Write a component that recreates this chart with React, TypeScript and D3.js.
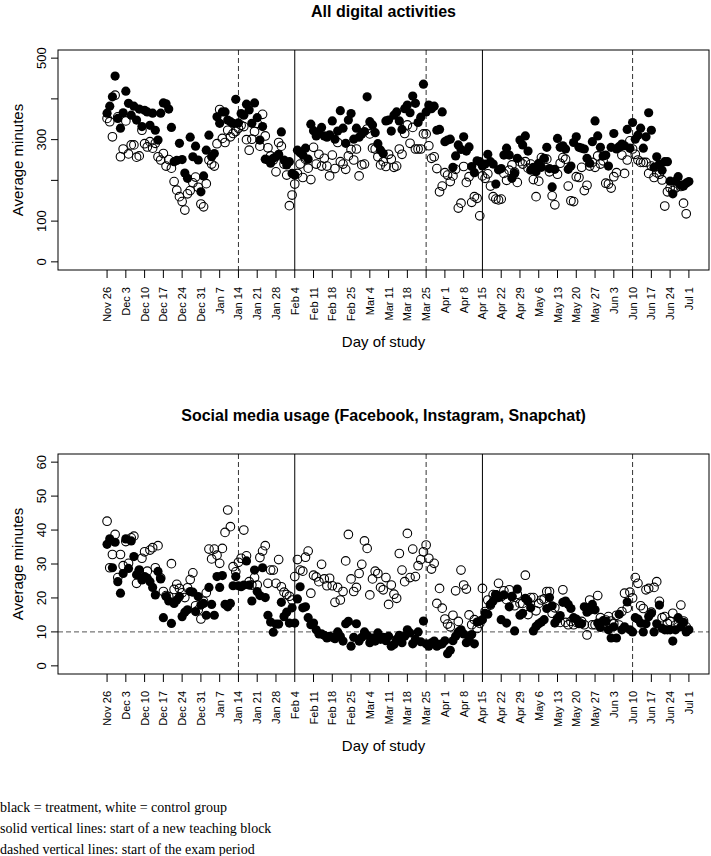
import React from 'react';
import * as d3 from 'd3';

// weekly tick labels, day 0 = Nov 26
const tickLabels = [
  'Nov 26', 'Dec 3', 'Dec 10', 'Dec 17', 'Dec 24', 'Dec 31', 'Jan 7', 'Jan 14',
  'Jan 21', 'Jan 28', 'Feb 4', 'Feb 11', 'Feb 18', 'Feb 25', 'Mar 4', 'Mar 11',
  'Mar 18', 'Mar 25', 'Apr 1', 'Apr 8', 'Apr 15', 'Apr 22', 'Apr 29', 'May 6',
  'May 13', 'May 20', 'May 27', 'Jun 3', 'Jun 10', 'Jun 17', 'Jun 24', 'Jul 1',
];
const teachingStarts = [70, 140]; // Feb 4, Apr 15
const examStarts = [49, 119, 196]; // Jan 14, Mar 25, Jun 10

// All digital activities, average minutes per day
const allTreat = [
  365, 382, 405, 456, 352, 328, 366, 419, 389, 360,
  382, 348, 375, 332, 372, 368, 335, 365, 323, 299,
  365, 390, 388, 375, 330, 246, 249, 291, 251, 218,
  205, 306, 258, 284, 250, 172, 211, 274, 311, 258,
  266, 356, 340, 368, 368, 348, 344, 340, 399, 341,
  364, 360, 387, 373, 340, 390, 354, 299, 332, 252,
  250, 242, 254, 258, 264, 319, 250, 238, 246, 217,
  213, 274, 268, 262, 279, 252, 338, 322, 309, 318,
  330, 309, 306, 312, 346, 301, 321, 371, 328, 291,
  348, 364, 301, 328, 306, 314, 320, 405, 344, 336,
  317, 290, 274, 266, 346, 348, 321, 360, 368, 346,
  325, 376, 385, 366, 407, 389, 342, 355, 436, 368,
  385, 376, 382, 323, 325, 368, 295, 299, 301, 232,
  260, 287, 276, 307, 272, 282, 234, 219, 248, 246,
  235, 240, 264, 246, 240, 191, 226, 229, 262, 279,
  262, 205, 217, 254, 299, 287, 309, 272, 225, 232,
  221, 242, 232, 254, 281, 229, 184, 227, 303, 281,
  285, 277, 227, 235, 293, 307, 281, 279, 277, 254,
  242, 295, 346, 309, 281, 260, 262, 235, 281, 315,
  277, 281, 289, 285, 325, 279, 342, 301, 311, 328,
  279, 307, 366, 323, 232, 258, 240, 225, 246, 246,
  198, 167, 198, 209, 188, 186, 193, 197,
];
const allControl = [
  352, 344, 307, 409, 356, 258, 277, 346, 265, 287,
  287, 257, 260, 323, 290, 282, 295, 279, 291, 258,
  250, 266, 235, 251, 230, 197, 176, 160, 148, 127,
  167, 175, 194, 208, 183, 142, 135, 192, 250, 240,
  235, 290, 374, 303, 293, 323, 307, 315, 320, 328,
  335, 332, 300, 274, 301, 320, 340, 284, 362, 309,
  280, 260, 250, 221, 293, 284, 240, 213, 138, 164,
  191, 217, 240, 207, 252, 230, 202, 281, 240, 264,
  235, 254, 235, 211, 262, 229, 293, 246, 240, 227,
  260, 276, 250, 277, 211, 238, 240, 326, 314, 279,
  277, 258, 238, 246, 234, 264, 252, 232, 235, 277,
  264, 315, 336, 291, 330, 277, 277, 277, 314, 314,
  285, 254, 258, 229, 172, 186, 219, 213, 197, 211,
  227, 132, 144, 234, 195, 209, 146, 160, 156, 113,
  211, 205, 216, 186, 160, 154, 152, 154, 217, 200,
  225, 238, 220, 195, 246, 240, 246, 230, 240, 202,
  160, 198, 256, 252, 252, 221, 162, 140, 215, 242,
  256, 252, 186, 150, 148, 209, 207, 232, 175, 188,
  235, 244, 232, 260, 240, 248, 193, 191, 181, 209,
  219, 282, 262, 217, 250, 297, 277, 264, 250, 244,
  244, 244, 217, 235, 207, 219, 215, 201, 137, 172,
  181, 175, 181, 195, 185, 144, 118, null,
];

// Social media usage, average minutes per day
const socialTreat = [
  35.8, 37.4, 28.9, 36.4, 24.8, 21.4, 27.2, 37.4, 28.7, 36.8,
  32.2, 26.8, 28.3, 25.3, 26.3, 25.8, 24.8, 23.1, 20.9, 27.8,
  25.6, 14.2, 20.4, 19.1, 12.5, 18.4, 19.4, 20.4, 14.5, 15.8,
  16.5, 21.9, 21.7, 16.0, 20.4, 17.9, 18.4, 14.9, 23.1, 18.1,
  14.9, 26.3, 23.1, 26.6, 18.1, 17.4, 18.4, 23.6, 26.3, 23.6,
  23.3, 23.8, 30.9, 23.8, 19.1, 28.2, 21.9, 20.7, 28.9, 20.1,
  14.9, 12.9, 9.9, 12.3, 12.3, 18.7, 14.5, 15.8, 12.6, 17.1,
  12.6, 19.7, 23.3, 17.1, 17.4, 14.2, 12.1, 12.6, 10.6, 9.4,
  9.4, 9.0, 8.2, 8.7, 8.4, 8.0, 10.0, 8.7, 7.3, 12.4,
  13.1, 5.8, 8.4, 12.4, 7.3, 8.4, 10.0, 9.0, 6.8, 8.2,
  7.3, 9.7, 7.8, 8.4, 7.4, 8.7, 5.8, 6.3, 7.8, 9.0,
  6.8, 8.7, 10.6, 9.7, 6.5, 7.8, 10.0, 7.1, 13.2, 6.5,
  5.8, 6.8, 7.3, 5.8, 6.3, 6.5, 7.4, 3.6, 4.6, 7.4,
  8.7, 10.0, 10.6, 9.4, 6.8, 7.8, 9.2, 6.5, 12.9, 13.2,
  13.6, 15.5, 15.2, 18.1, 19.1, 21.0, 20.1, 13.6, 20.9, 12.6,
  17.4, 20.4, 10.3, 22.6, 14.9, 15.5, 19.9, 19.1, 17.1, 10.3,
  11.6, 12.4, 12.9, 13.6, 16.9, 20.1, 17.7, 12.6, 13.8, 14.8,
  18.7, 19.1, 18.1, 16.9, 14.2, 13.8, 12.4, 12.4, 17.4, 15.8,
  16.4, 18.1, 16.5, 12.6, 11.3, 13.3, 13.1, 10.6, 8.2, 11.5,
  8.2, 15.2, 10.6, 11.5, 18.8, 10.6, 10.0, 14.2, 13.8, 12.6,
  10.0, 12.4, 14.5, 15.5, 10.0, 12.4, 17.9, 11.1, 10.6, 10.6,
  10.6, 7.3, 10.6, 14.2, 11.5, 12.8, 10.0, 10.6,
];
const socialControl = [
  42.6, 28.9, 32.8, 38.7, 26.0, 32.8, 29.5, 36.6, 30.2, 37.7,
  38.2, 24.3, 28.0, 31.7, 33.6, 27.9, 34.1, 34.8, 28.9, 35.4,
  25.9, 21.9, 20.7, 20.4, 30.1, 22.5, 24.0, 22.8, 21.5, 20.1,
  23.0, 25.4, 27.4, 17.7, 16.5, 13.8, 19.0, 21.5, 34.4, 31.5,
  34.4, 32.6, 30.2, 34.6, 39.3, 45.9, 41.0, 29.2, 27.7, 30.5,
  31.7, 40.0, 32.4, 24.8, 23.8, 26.0, 23.8, 31.9, 33.8, 35.4,
  24.3, 28.2, 28.2, 24.3, 31.3, 23.3, 21.7, 21.0, 20.5, 19.4,
  26.3, 31.3, 28.2, 27.9, 32.0, 33.8, 21.4, 26.7, 26.2, 24.8,
  29.9, 25.6, 23.6, 25.8, 23.6, 18.7, 23.1, 19.4, 21.9, 30.9,
  38.7, 25.6, 21.9, 23.1, 27.2, 29.9, 36.8, 34.6, 20.9, 25.6,
  27.9, 27.2, 23.1, 22.4, 26.0, 18.1, 23.8, 21.1, 19.9, 33.1,
  28.2, 24.8, 39.0, 26.0, 34.4, 26.3, 29.5, 31.3, 33.6, 35.6,
  31.7, 28.5, 30.2, 18.4, 22.8, 17.0, 13.8, 12.3, 11.5, 14.9,
  22.1, 13.1, 28.2, 23.8, 22.6, 15.0, 12.1, 13.6, 11.0, 12.5,
  22.8, 16.0, 19.4, 17.9, 21.0, 20.9, 24.3, 20.4, 22.1, 19.5,
  22.4, 20.4, 17.7, 21.1, 18.4, 18.4, 26.7, 15.1, 20.1, 20.1,
  16.2, 18.4, 19.4, 19.7, 21.9, 21.9, 15.5, 17.1, 14.0, 12.8,
  22.4, 12.8, 12.1, 13.1, 12.1, 12.8, 12.8, 13.1, 12.1, 9.1,
  19.4, 12.1, 12.1, 20.7, 14.2, 12.4, 13.5, 14.5, 13.2, 12.4,
  14.9, 12.0, 16.0, 21.4, 17.0, 21.7, 20.0, 26.0, 24.3, 17.7,
  16.9, 22.4, 22.8, 15.8, 23.1, 24.8, 19.0, 14.2, 14.5, 12.5,
  13.1, 15.5, 12.0, 11.5, 17.9, 13.2, 11.5, null,
];

const notes = [
  'black = treatment, white = control group',
  'solid vertical lines: start of a new teaching block',
  'dashed vertical lines: start of the exam period',
];

const W = 711;
const H = 856;
const SANS = '"Liberation Sans", Arial, Helvetica, sans-serif';
const SERIF = '"Liberation Serif", "Times New Roman", serif';

// shared day axis, box runs 58..709
const x = d3.scaleLinear().domain([-18.3, 224.5]).range([58, 709]);

type PanelProps = {
  top: number;
  title: string;
  yMax: number;
  yTicks: number[];
  yLabels: number[];
  treat: (number | null)[];
  control: (number | null)[];
  hline?: number;
};

function Panel({ top, title, yMax, yTicks, yLabels, treat, control, hline }: PanelProps) {
  const boxT = top + 50;
  const boxB = top + 270;
  const pad = yMax * 0.04;
  const y = d3.scaleLinear().domain([-pad, yMax + pad]).range([boxB, boxT]);
  const [x0, x1] = x.range();
  const midX = (x0 + x1) / 2;

  const pts = (vals: (number | null)[]) =>
    vals.map((v, i) => ({ d: i, v })).filter(p => p.v != null) as { d: number; v: number }[];

  return (
    <g>
      <text x={midX} y={top + 17} textAnchor="middle" fontFamily={SANS} fontSize={16} fontWeight="bold">
        {title}
      </text>

      {hline != null && (
        <line x1={x0} x2={x1} y1={y(hline)} y2={y(hline)} stroke="#555" strokeDasharray="5,3" />
      )}
      {examStarts.map(d => (
        <line key={'e' + d} x1={x(d)} x2={x(d)} y1={boxT} y2={boxB} stroke="#333" strokeDasharray="5,3" />
      ))}
      {teachingStarts.map(d => (
        <line key={'t' + d} x1={x(d)} x2={x(d)} y1={boxT} y2={boxB} stroke="#000" />
      ))}

      {pts(treat).map(p => (
        <circle key={'b' + p.d} cx={x(p.d)} cy={y(p.v)} r={4.6} fill="#000" />
      ))}
      {pts(control).map(p => (
        <circle key={'w' + p.d} cx={x(p.d)} cy={y(p.v)} r={4.3} fill="none" stroke="#000" strokeWidth={1.1} />
      ))}

      <rect x={x0} y={boxT} width={x1 - x0} height={boxB - boxT} fill="none" stroke="#000" />

      {yTicks.map(t => (
        <line key={'yt' + t} x1={x0} x2={x0 - 7} y1={y(t)} y2={y(t)} stroke="#000" />
      ))}
      {yLabels.map(t => (
        <text key={'yl' + t} transform={`translate(46,${y(t)}) rotate(-90)`} textAnchor="middle"
          fontFamily={SANS} fontSize={13}>
          {t}
        </text>
      ))}
      <text transform={`translate(23,${(boxT + boxB) / 2}) rotate(-90)`} textAnchor="middle"
        fontFamily={SANS} fontSize={15}>
        Average minutes
      </text>

      {tickLabels.map((lab, i) => (
        <g key={lab}>
          <line x1={x(i * 7)} x2={x(i * 7)} y1={boxB} y2={boxB + 8} stroke="#000" />
          <text transform={`translate(${x(i * 7) + 4},${boxB + 17}) rotate(-90)`} textAnchor="end"
            fontFamily={SANS} fontSize={11}>
            {lab}
          </text>
        </g>
      ))}
      <text x={midX} y={boxB + 77} textAnchor="middle" fontFamily={SANS} fontSize={15}>
        Day of study
      </text>
    </g>
  );
}

export default function App() {
  return (
    <svg width={W} height={H} style={{ position: 'absolute', left: 0, top: 0, background: '#fff' }}>
      <Panel
        top={0}
        title="All digital activities"
        yMax={500}
        yTicks={[0, 100, 200, 300, 400, 500]}
        yLabels={[0, 100, 300, 500]}
        treat={allTreat}
        control={allControl}
      />
      <Panel
        top={404}
        title="Social media usage (Facebook, Instagram, Snapchat)"
        yMax={60}
        yTicks={[0, 10, 20, 30, 40, 50, 60]}
        yLabels={[0, 10, 20, 30, 40, 50, 60]}
        treat={socialTreat}
        control={socialControl}
        hline={10}
      />
      {notes.map((n, i) => (
        <text key={n} x={0} y={812 + i * 21} fontFamily={SERIF} fontSize={14}>
          {n}
        </text>
      ))}
    </svg>
  );
}
